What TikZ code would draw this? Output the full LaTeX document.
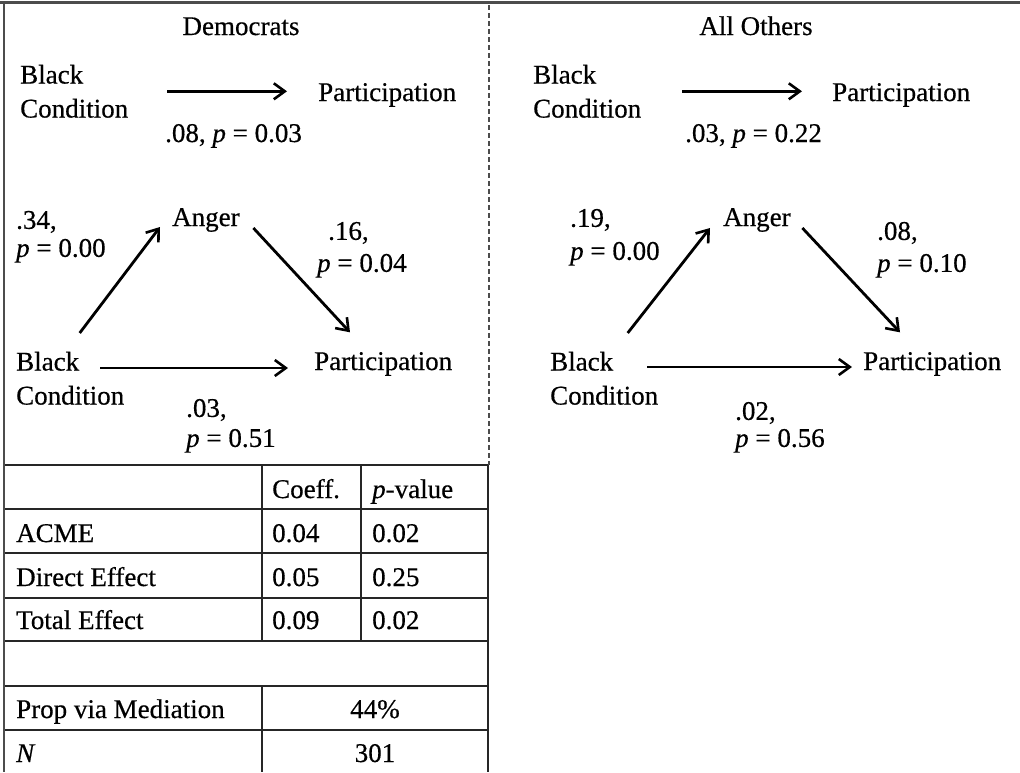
\documentclass[tikz,border=0pt]{standalone}
\usepackage{fontspec}
\setmainfont[FakeBold=0.5]{Liberation Serif}
\usetikzlibrary{arrows.meta}
\begin{document}
\begin{tikzpicture}[x=1pt,y=-1pt,
  txt/.style={font=\fontsize{27}{34}\selectfont, inner sep=0pt, text=black},
  two/.style={txt, align=left, anchor=north west},
  lab/.style={txt, align=left, anchor=north west, font=\fontsize{27}{#1}\selectfont},
  arr/.style={line width=2.8pt, -{Straight Barb[length=11pt,width=16pt,line width=2.6pt]}},
  tline/.style={line width=1.8pt, black!85},
  frame/.style={line width=2.8pt, black!70}]
\useasboundingbox (0,0) rectangle (1020,772);
% frame
\draw[frame] (0,2.5) -- (1020,2.5);
\draw[frame] (4,2.5) -- (4,772);
\draw[line width=1.3pt, black!70, dash pattern=on 5pt off 3pt] (489,5) -- (489,465);
% ---------- Democrats ----------
\node[txt, anchor=base] (t1) at (241,35) {Democrats};
\node[two] (bc1) at (20,64.6) {Black\\Condition};
\node[txt, anchor=base west] (p1) at (318,101) {Participation};
\node[txt, anchor=base west] (l1) at (165,142) {.08, \textit{p} = 0.03};
\draw[arr] ([xshift=39pt]bc1.east) -- ([xshift=-31pt]p1.west |- bc1.east);

\node[lab=28] (lab34) at (16,210.75) {.34,\\\textit{p} = 0.00};
\node[txt, anchor=base west] (anger1) at (172,226) {Anger};
\node[lab=32] (lab16) at (317,221.75) {\hspace*{11pt}.16,\\\textit{p} = 0.04};
\node[two] (bc2) at (16,351.6) {Black\\Condition};
\node[txt, anchor=base west] (p2) at (314,370) {Participation};
\node[lab=30] (lab03) at (186,398.75) {.03,\\\textit{p} = 0.51};
\draw[arr] ([xshift=9.5pt,yshift=18.6pt]bc2.north) -- ([xshift=-12pt,yshift=-1pt]anger1.base west);
\draw[arr] ([xshift=13.5pt,yshift=-2pt]anger1.base east) -- ([xshift=36pt,yshift=19.6pt]p2.north west);
\draw[arr] ([xshift=84pt,yshift=-16.4pt]bc2.north west) -- ([xshift=-26pt,yshift=2pt]p2.base west);

% ---------- All Others ----------
\node[txt, anchor=base] (t2) at (756,35) {All Others};
\node[two] (bc3) at (533,64.6) {Black\\Condition};
\node[txt, anchor=base west] (p3) at (832,101) {Participation};
\node[txt, anchor=base west] (l3) at (685,142) {.03, \textit{p} = 0.22};
\draw[arr] ([xshift=41pt]bc3.east) -- ([xshift=-30pt]p3.west |- bc3.east);

\node[lab=33] (lab19) at (570,208.75) {.19,\\\textit{p} = 0.00};
\node[txt, anchor=base west] (anger2) at (723,226) {Anger};
\node[lab=32] (lab08) at (877,221.75) {.08,\\\textit{p} = 0.10};
\node[two] (bc4) at (550,351.6) {Black\\Condition};
\node[txt, anchor=base west] (p4) at (863,370) {Participation};
\node[lab=27] (lab02) at (735,401.75) {.02,\\\textit{p} = 0.56};
\draw[arr] ([xshift=23.5pt,yshift=18.6pt]bc4.north) -- ([xshift=-13pt,yshift=-2pt]anger2.base west);
\draw[arr] ([xshift=11.5pt,yshift=-2pt]anger2.base east) -- ([xshift=37pt,yshift=19.6pt]p4.north west);
\draw[arr] ([xshift=97pt,yshift=-15.4pt]bc4.north west) -- ([xshift=-11pt,yshift=3pt]p4.base west);

% ---------- Table ----------
\foreach \yy in {465,509,553,598,641,686,730} \draw[tline] (5,\yy) -- (488,\yy);
\draw[tline] (488,465) -- (488,772);
\draw[tline] (262,465) -- (262,641);
\draw[tline] (262,686) -- (262,772);
\draw[tline] (361,465) -- (361,641);
\node[txt, anchor=base west] (hc) at (272,498) {Coeff.};
\node[txt, anchor=base west] (hp) at (372,498) {\textit{p}-value};
\node[txt, anchor=base west] (r1) at (16,542) {ACME};
\node[txt, anchor=base west] (r1c) at (272,542) {0.04};
\node[txt, anchor=base west] (r1p) at (372,542) {0.02};
\node[txt, anchor=base west] (r2) at (16,586) {Direct Effect};
\node[txt, anchor=base west] (r2c) at (272,586) {0.05};
\node[txt, anchor=base west] (r2p) at (372,586) {0.25};
\node[txt, anchor=base west] (r3) at (16,629) {Total Effect};
\node[txt, anchor=base west] (r3c) at (272,629) {0.09};
\node[txt, anchor=base west] (r3p) at (372,629) {0.02};
\node[txt, anchor=base west] (r4) at (16,718) {Prop via Mediation};
\node[txt, anchor=base] (r4v) at (375,718) {44\%};
\node[txt, anchor=base west] (r5) at (16,762) {\textit{N}};
\node[txt, anchor=base] (r5v) at (375,762) {301};
\end{tikzpicture}
\end{document}
